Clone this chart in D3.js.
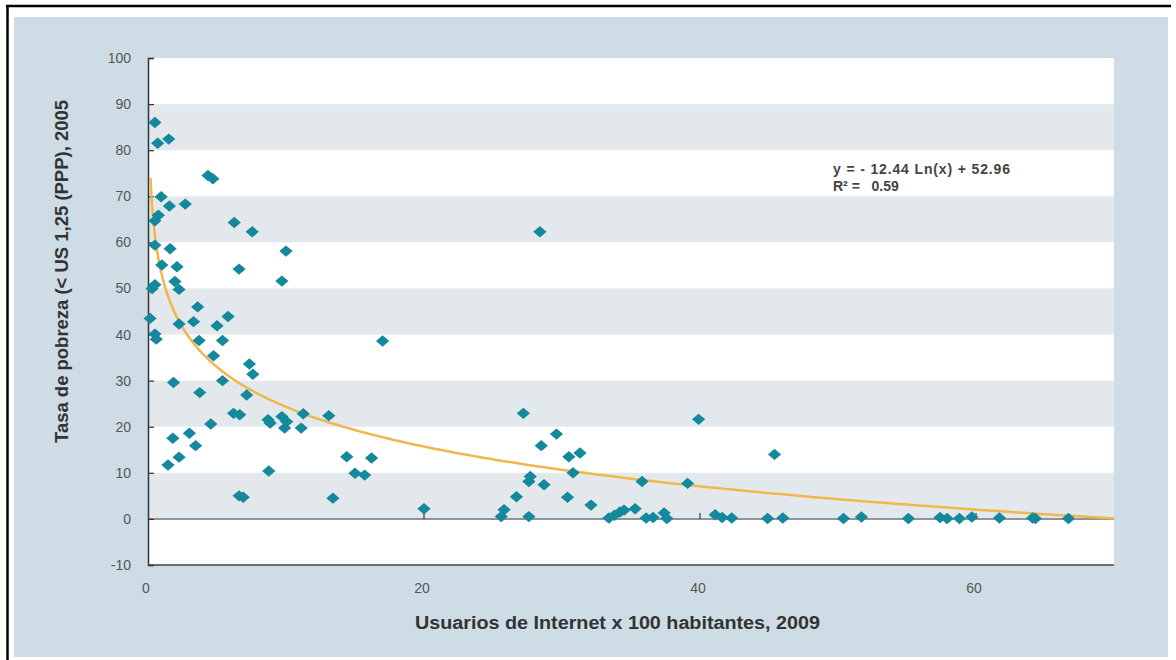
<!DOCTYPE html>
<html>
<head>
<meta charset="utf-8">
<script src="https://cdn.jsdelivr.net/npm/d3@7"></script>
<style>
  html, body { margin: 0; padding: 0; background: #ffffff; }
  svg { display: block; font-family: "Liberation Sans", Arial, sans-serif; }
</style>
</head>
<body>
<svg id="chart" width="1176" height="660"></svg>
<script>
// Internet users per 100 inhabitants (2009) and poverty rate (< US$1.25 PPP, 2005)
const internetUsers = [
  0.5, 0.7, 1.5, 4.35, 4.7, 0.95, 1.55, 2.7, 0.75, 0.5,
  6.25, 7.55, 0.5, 1.6, 10.0, 1.0, 2.1, 6.6, 9.7, 0.3,
  0.5, 1.95, 2.25, 0.15, 0.5, 0.6, 2.25, 3.3, 3.6, 3.7,
  5.0, 5.8, 5.4, 4.75, 7.35, 7.6, 5.4, 1.85, 3.75, 7.15,
  6.2, 6.65, 8.7, 8.85, 9.7, 10.05, 9.9, 11.1, 11.25, 4.55,
  1.8, 3.0, 3.45, 1.45, 2.25, 8.75, 6.6, 6.9, 17.0, 13.1,
  14.4, 16.2, 15.0, 15.7, 13.4, 20.0, 27.2, 29.6, 28.5, 30.5,
  31.3, 30.8, 27.7, 27.6, 28.7, 26.7, 30.4, 32.1, 25.8, 25.6,
  27.6, 28.4, 39.9, 45.4, 35.8, 39.1, 33.4, 33.8, 34.2, 34.5,
  35.3, 36.1, 36.6, 37.4, 37.6, 41.1, 41.6, 42.3, 44.9, 46.0,
  50.4, 51.7, 55.1, 57.4, 57.9, 58.8, 59.7, 61.7, 64.1, 64.3,
  66.7
];
const povertyRate = [
  86.0, 81.5, 82.4, 74.5, 73.8, 69.9, 67.9, 68.3, 65.9, 64.7,
  64.3, 62.3, 59.4, 58.6, 58.1, 55.1, 54.7, 54.2, 51.6, 50.0,
  50.8, 51.5, 49.8, 43.5, 40.1, 39.0, 42.3, 42.8, 46.0, 38.7,
  41.9, 43.9, 38.7, 35.4, 33.6, 31.4, 30.0, 29.6, 27.4, 26.9,
  22.9, 22.6, 21.5, 20.8, 22.2, 21.1, 19.7, 19.7, 22.8, 20.6,
  17.5, 18.6, 15.9, 11.7, 13.4, 10.4, 5.0, 4.7, 38.6, 22.4,
  13.5, 13.2, 9.9, 9.5, 4.5, 2.2, 22.9, 18.4, 15.9, 13.5,
  14.3, 10.0, 9.2, 8.1, 7.4, 4.8, 4.7, 3.0, 2.0, 0.5,
  0.5, 62.3, 21.6, 14.0, 8.1, 7.7, 0.2, 0.8, 1.5, 1.9,
  2.2, 0.2, 0.3, 1.3, 0.1, 0.9, 0.3, 0.2, 0.1, 0.2,
  0.1, 0.4, 0.1, 0.3, 0.1, 0.1, 0.4, 0.2, 0.2, 0.1,
  0.1
];

// Axis ticks
const yTicks = [-10, 0, 10, 20, 30, 40, 50, 60, 70, 80, 90, 100];
const xTickLabels = [0, 20, 40, 60];

// Logarithmic fit: y = a * ln(x) + b
const fitA = -12.44;
const fitB = 52.96;
const fitR2 = 0.59;

const svg = d3.select("#chart");

// Outer frame and panel background
svg.append("rect").attr("x", 14).attr("y", 17).attr("width", 1154).attr("height", 640)
  .attr("fill", "#cedde5");
svg.append("line").attr("x1", 6).attr("x2", 1171).attr("y1", 6).attr("y2", 6)
  .attr("stroke", "#000").attr("stroke-width", 2.5);
svg.append("line").attr("x1", 7.5).attr("x2", 7.5).attr("y1", 5).attr("y2", 660)
  .attr("stroke", "#000").attr("stroke-width", 2.5);

const plot = { left: 148, right: 1114, top: 58, bottom: 565 };

const x = d3.scaleLinear().domain([0, 70]).range([plot.left, plot.right]);
const y = d3.scaleLinear().domain([-10, 100]).range([plot.bottom, plot.top]);

// Plot background with alternating horizontal bands
svg.append("rect")
  .attr("x", plot.left).attr("y", plot.top)
  .attr("width", plot.right - plot.left).attr("height", plot.bottom - plot.top)
  .attr("fill", "#ffffff");

const bands = d3.range(0, 100, 20);
svg.append("g").selectAll("rect").data(bands).join("rect")
  .attr("x", plot.left)
  .attr("width", plot.right - plot.left)
  .attr("y", d => y(d + 10))
  .attr("height", d => y(d) - y(d + 10))
  .attr("fill", "#e3e8ec");

// Zero reference line
svg.append("line")
  .attr("x1", plot.left).attr("x2", plot.right)
  .attr("y1", y(0)).attr("y2", y(0))
  .attr("stroke", "#8f9498").attr("stroke-width", 2);

// Small x ticks sitting on the zero line
svg.append("g").selectAll("line").data(xTickLabels.filter(d => d > 0)).join("line")
  .attr("x1", d => x(d)).attr("x2", d => x(d))
  .attr("y1", y(0) - 6).attr("y2", y(0))
  .attr("stroke", "#333").attr("stroke-width", 1.2);

// Y axis (ticks pointing into the plot)
const yAxis = d3.axisRight(y).tickValues(yTicks).tickSize(6).tickFormat("");
const yAxisG = svg.append("g").attr("transform", `translate(${plot.left},0)`).call(yAxis);
yAxisG.select(".domain").attr("stroke", "#333").attr("stroke-width", 1.5);
yAxisG.selectAll(".tick line").attr("stroke", "#333").attr("stroke-width", 1.2);

svg.append("g").selectAll("text").data(yTicks).join("text")
  .attr("x", 131)
  .attr("y", d => y(d) + 5)
  .attr("text-anchor", "end")
  .attr("font-size", 14)
  .attr("fill", "#555")
  .text(d => d);

// Bottom border of the plot
svg.append("line")
  .attr("x1", plot.left).attr("x2", plot.right)
  .attr("y1", plot.bottom).attr("y2", plot.bottom)
  .attr("stroke", "#444").attr("stroke-width", 1.5);

// X tick labels
svg.append("g").selectAll("text").data(xTickLabels).join("text")
  .attr("x", d => x(d) - 2)
  .attr("y", 593)
  .attr("text-anchor", "middle")
  .attr("font-size", 14)
  .attr("fill", "#555")
  .text(d => d);

// Axis titles
svg.append("text")
  .attr("x", 415).attr("y", 629)
  .attr("font-size", 17.5).attr("font-weight", "bold")
  .attr("fill", "#333")
  .attr("textLength", 405).attr("lengthAdjust", "spacingAndGlyphs")
  .text("Usuarios de Internet x 100 habitantes, 2009");

svg.append("text")
  .attr("transform", "translate(68,443) rotate(-90)")
  .attr("font-size", 17.5).attr("font-weight", "bold")
  .attr("fill", "#333")
  .attr("textLength", 343).attr("lengthAdjust", "spacingAndGlyphs")
  .text("Tasa de pobreza (< US 1,25 (PPP), 2005");

// Fitted logarithmic trend
const fitXs = d3.range(0, 241).map(i => Math.exp(Math.log(0.185) + i * (Math.log(70) - Math.log(0.185)) / 240));
const trend = d3.line()
  .x(d => x(d))
  .y(d => y(fitA * Math.log(d) + fitB))
  .curve(d3.curveMonotoneX);
svg.append("path")
  .datum(fitXs)
  .attr("d", trend)
  .attr("fill", "none")
  .attr("stroke", "#f2b64a")
  .attr("stroke-width", 2.5);

// Data points as diamonds
const points = internetUsers.map((v, i) => ({ u: v, p: povertyRate[i] }));
const diamond = d3.symbol().type(d3.symbolSquare).size(88);
svg.append("g").selectAll("path").data(points).join("path")
  .attr("d", diamond)
  .attr("transform", d => `translate(${x(d.u)},${y(d.p)}) scale(1,0.86) rotate(45)`)
  .attr("fill", "#14889c");

// Fit equation
svg.append("text")
  .attr("x", 833).attr("y", 174)
  .attr("font-size", 14).attr("font-weight", "bold").attr("fill", "#444")
  .attr("textLength", 177).attr("lengthAdjust", "spacing")
  .text(`y = - ${Math.abs(fitA).toFixed(2)} Ln(x) +  ${fitB.toFixed(2)}`);
svg.append("text")
  .attr("x", 833).attr("y", 191)
  .attr("font-size", 14).attr("font-weight", "bold").attr("fill", "#444")
  .style("white-space", "pre")
  .text(`R² =   ${fitR2.toFixed(2)}`);
</script>
</body>
</html>
